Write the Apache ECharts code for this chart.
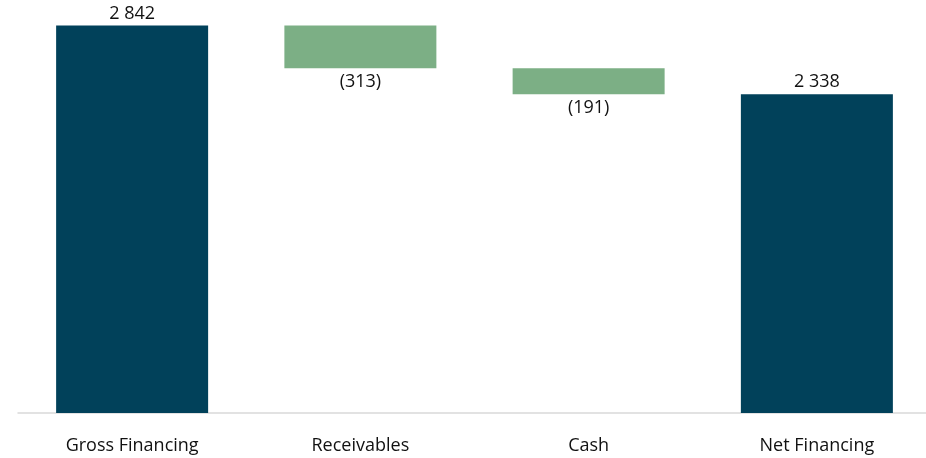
<!DOCTYPE html>
<html><head><meta charset="utf-8">
<script src="https://cdn.jsdelivr.net/npm/echarts@6/dist/echarts.min.js"></script>
<style>html,body{margin:0;padding:0;background:#fff;overflow:hidden;width:926px;height:458px}#c{width:940px;height:458px}</style>
</head><body><div id="c"></div>
<script>
const categories = ['Gross Financing', 'Receivables', 'Cash', 'Net Financing'];
const values = [2842, -313, -191, 2338];
const isTotal = [true, false, false, true];
const yTicks = [0, 3000];

const base = [], totals = [], changes = [];
let running = 0;
values.forEach((v, i) => {
  if (isTotal[i]) {
    base.push(0); totals.push(v); changes.push('-'); running = v;
  } else {
    const next = running + v;
    base.push(Math.min(running, next)); totals.push('-'); changes.push(Math.abs(v)); running = next;
  }
});
const fmt = n => String(n).replace(/\B(?=(\d{3})+(?!\d))/g, ' ');
const FONT = 'Open Sans';
const chart = echarts.init(document.getElementById('c'));
chart.setOption({
  animation: false,
  grid: { left: 18, width: 913, top: 4, bottom: 45, containLabel: false },
  xAxis: {
    type: 'category', data: categories,
    axisLine: { lineStyle: { color: '#d9d9d9', width: 1.5 } },
    axisTick: { show: false },
    axisLabel: { color: '#111', fontFamily: FONT, fontSize: 18, margin: 24 }
  },
  yAxis: { type: 'value', min: yTicks[0], max: yTicks[1], show: false, splitLine: { show: false } },
  series: [
    { type: 'bar', stack: 'w', data: base, barWidth: 152, itemStyle: { color: 'transparent' }, silent: true },
    { type: 'bar', stack: 'w', data: totals, barWidth: 152, itemStyle: { color: '#01415A' },
      label: { show: true, position: 'top', distance: 3, formatter: p => fmt(p.value), color: '#111', fontFamily: FONT, fontSize: 18 } },
    { type: 'bar', stack: 'w', data: changes, barWidth: 152, itemStyle: { color: '#7CAF85' },
      label: { show: true, position: 'bottom', distance: 5, formatter: p => '(' + fmt(p.value) + ')', color: '#111', fontFamily: FONT, fontSize: 18 } }
  ]
});
</script></body></html>
